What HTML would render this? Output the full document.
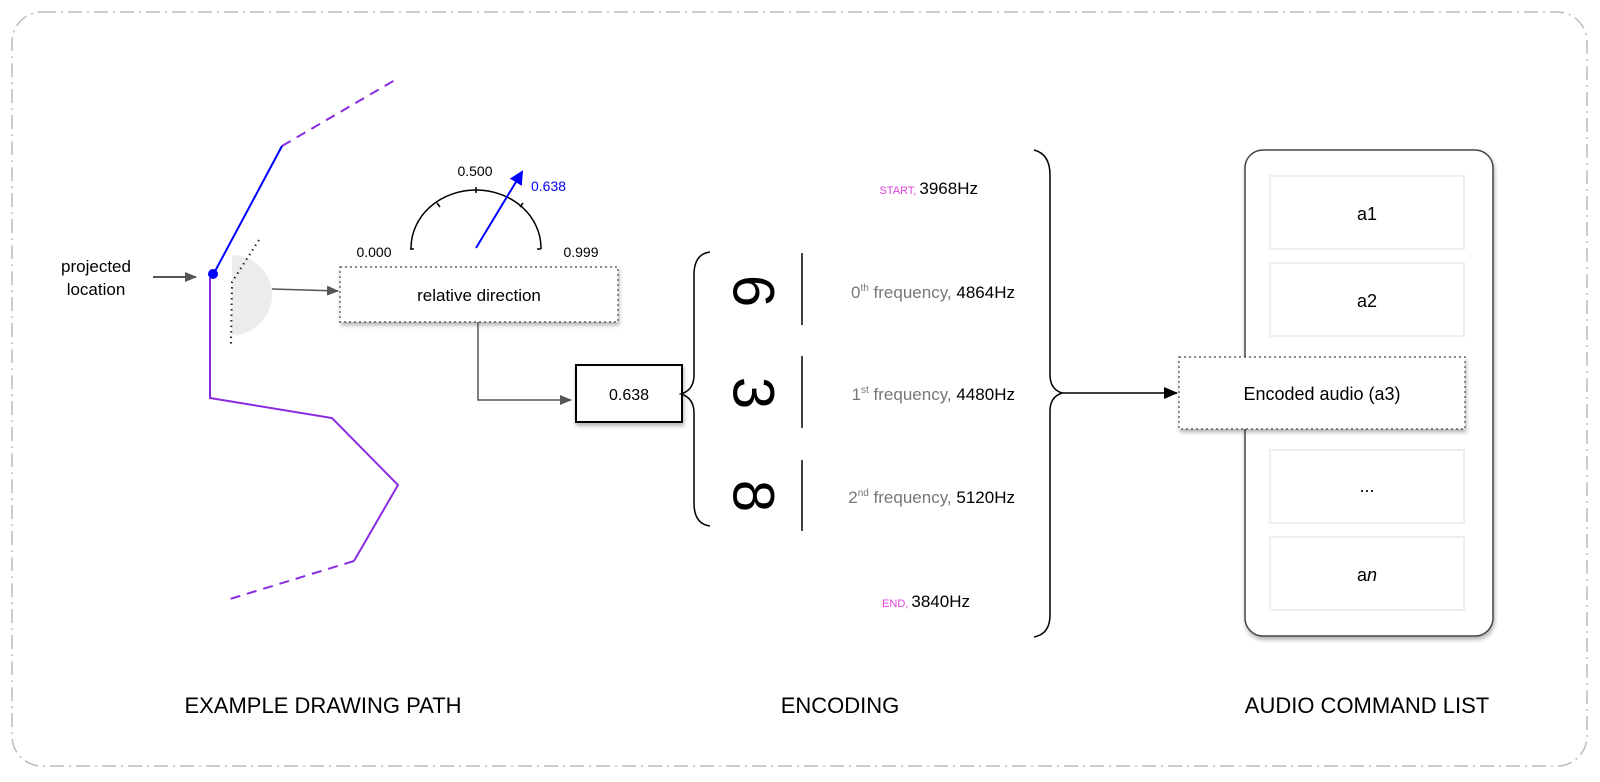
<!DOCTYPE html>
<html><head><meta charset="utf-8"><style>
html,body{margin:0;padding:0;background:#fff;}
svg{display:block;font-family:"Liberation Sans",sans-serif;}
</style></head><body>
<svg width="1600" height="782" viewBox="0 0 1600 782" xmlns="http://www.w3.org/2000/svg">
<defs>
<marker id="ag" markerWidth="12" markerHeight="10" refX="11" refY="5" orient="auto" markerUnits="userSpaceOnUse"><path d="M0,0 L12,5 L0,10 Z" fill="#555"/></marker>
<marker id="ab" markerWidth="14" markerHeight="12" refX="13" refY="6" orient="auto" markerUnits="userSpaceOnUse"><path d="M0,0 L14,6 L0,12 Z" fill="#000"/></marker>
<marker id="abl" markerWidth="14" markerHeight="14" refX="12" refY="7" orient="auto" markerUnits="userSpaceOnUse"><path d="M0,0 L14,7 L0,14 Z" fill="#00f"/></marker>
<filter id="sh" x="-10%" y="-10%" width="130%" height="140%"><feDropShadow dx="1" dy="3" stdDeviation="2" flood-color="#000" flood-opacity="0.3"/></filter>
</defs>
<rect x="12" y="12" width="1575" height="754" rx="30" fill="none" stroke="#bbb" stroke-width="1.5" stroke-dasharray="14,5,2,5"/>

<!-- drawing path -->
<path d="M282,146 L395,80" stroke="#8a2be2" stroke-width="2" fill="none" stroke-dasharray="10,7"/>
<path d="M213,275 L282,146" stroke="#00f" stroke-width="2" fill="none"/>
<path d="M210,278 L210,398 L332,418 L398,485 L354,561" stroke="#8a2be2" stroke-width="2" fill="none"/>
<path d="M354,561 L230,599" stroke="#8a2be2" stroke-width="2" fill="none" stroke-dasharray="10,7"/>
<circle cx="213" cy="274" r="5" fill="#00f"/>
<path d="M232,255 A40,40 0 0 1 232,335 Z" fill="#ececec"/>
<path d="M259,240 L232,282 L231,345" stroke="#222" stroke-width="2" fill="none" stroke-dasharray="1.5,4"/>
<text x="96" y="272" font-size="17" text-anchor="middle">projected</text>
<text x="96" y="295" font-size="17" text-anchor="middle">location</text>
<line x1="153" y1="277" x2="196" y2="277" stroke="#555" stroke-width="2" marker-end="url(#ag)"/>
<line x1="272" y1="289" x2="338" y2="291" stroke="#555" stroke-width="1.5" marker-end="url(#ag)"/>

<!-- gauge -->
<path d="M411,249 L411,248 A65,58 0 0 1 541,248 L541,249" stroke="#000" stroke-width="1.5" fill="none"/>
<path d="M410,249 L414,249 M541,249 L537,249" stroke="#000" stroke-width="1.5"/>
<line x1="476" y1="187" x2="476" y2="193" stroke="#000" stroke-width="1.5"/>
<line x1="437" y1="203" x2="440" y2="207" stroke="#000" stroke-width="1.5"/>
<line x1="523" y1="203" x2="520" y2="207" stroke="#000" stroke-width="1.5"/>
<line x1="476" y1="248" x2="522" y2="172" stroke="#00f" stroke-width="2" marker-end="url(#abl)"/>
<text x="475" y="176" font-size="14" text-anchor="middle">0.500</text>
<text x="374" y="257" font-size="14" text-anchor="middle">0.000</text>
<text x="581" y="257" font-size="14" text-anchor="middle">0.999</text>
<text x="531" y="191" font-size="14" fill="#00f">0.638</text>

<rect x="340" y="267" width="278" height="55" fill="#fff" stroke="#444" stroke-width="1.2" stroke-dasharray="2,3" filter="url(#sh)"/>
<text x="479" y="301" font-size="17" text-anchor="middle">relative direction</text>
<path d="M478,322 L478,400 L571,400" stroke="#555" stroke-width="1.5" fill="none" marker-end="url(#ag)"/>
<rect x="576" y="365" width="106" height="57" fill="#fff" stroke="#000" stroke-width="2" filter="url(#sh)"/>
<text x="629" y="400" font-size="16" text-anchor="middle">0.638</text>

<!-- small brace -->
<path d="M710,252 Q694,254 694,275 L694,375 Q694,390 681,394 Q694,398 694,413 L694,503 Q694,524 710,526" stroke="#000" stroke-width="1.5" fill="none"/>
<text transform="translate(753,291) rotate(90)" font-size="58" text-anchor="middle" dominant-baseline="central">6</text>
<text transform="translate(753,393) rotate(90)" font-size="58" text-anchor="middle" dominant-baseline="central">3</text>
<text transform="translate(753,496) rotate(90)" font-size="58" text-anchor="middle" dominant-baseline="central">8</text>
<line x1="802" y1="253" x2="802" y2="325" stroke="#000" stroke-width="1.5"/>
<line x1="802" y1="356" x2="802" y2="428" stroke="#000" stroke-width="1.5"/>
<line x1="802" y1="460" x2="802" y2="531" stroke="#000" stroke-width="1.5"/>

<text x="1015" y="298" font-size="17" text-anchor="end" fill="#777">0<tspan font-size="10" dy="-7">th</tspan><tspan dy="7"> frequency, </tspan><tspan fill="#000">4864Hz</tspan></text>
<text x="1015" y="400" font-size="17" text-anchor="end" fill="#777">1<tspan font-size="10" dy="-7">st</tspan><tspan dy="7"> frequency, </tspan><tspan fill="#000">4480Hz</tspan></text>
<text x="1015" y="503" font-size="17" text-anchor="end" fill="#777">2<tspan font-size="10" dy="-7">nd</tspan><tspan dy="7"> frequency, </tspan><tspan fill="#000">5120Hz</tspan></text>
<text x="978" y="194" font-size="17" text-anchor="end"><tspan fill="#e040e0" font-size="11">START, </tspan>3968Hz</text>
<text x="970" y="607" font-size="17" text-anchor="end"><tspan fill="#e040e0" font-size="11">END, </tspan>3840Hz</text>

<!-- big brace -->
<path d="M1034,150 Q1050,154 1050,175 L1050,375 Q1050,389 1062,393 Q1050,397 1050,411 L1050,615 Q1050,634 1034,637" stroke="#000" stroke-width="1.5" fill="none"/>
<line x1="1062" y1="393" x2="1177" y2="393" stroke="#000" stroke-width="1.5" marker-end="url(#ab)"/>

<!-- list -->
<rect x="1245" y="150" width="248" height="486" rx="18" fill="#fff" stroke="#444" stroke-width="1.5" filter="url(#sh)"/>
<rect x="1270" y="176" width="194" height="73" fill="#fff" stroke="#eee" stroke-width="2"/>
<rect x="1270" y="263" width="194" height="73" fill="#fff" stroke="#eee" stroke-width="2"/>
<rect x="1270" y="450" width="194" height="73" fill="#fff" stroke="#eee" stroke-width="2"/>
<rect x="1270" y="537" width="194" height="73" fill="#fff" stroke="#eee" stroke-width="2"/>
<text x="1367" y="220" font-size="18" text-anchor="middle">a1</text>
<text x="1367" y="307" font-size="18" text-anchor="middle">a2</text>
<text x="1367" y="492" font-size="18" text-anchor="middle">...</text>
<text x="1367" y="581" font-size="18" text-anchor="middle">a<tspan font-style="italic">n</tspan></text>
<rect x="1179" y="357" width="286" height="72" fill="#fff" stroke="#444" stroke-width="1.2" stroke-dasharray="2,3" filter="url(#sh)"/>
<text x="1322" y="400" font-size="18" text-anchor="middle">Encoded audio (a3)</text>

<text x="323" y="713" font-size="22" text-anchor="middle">EXAMPLE DRAWING PATH</text>
<text x="840" y="713" font-size="22" text-anchor="middle">ENCODING</text>
<text x="1367" y="713" font-size="22" text-anchor="middle">AUDIO COMMAND LIST</text>
</svg>
</body></html>
